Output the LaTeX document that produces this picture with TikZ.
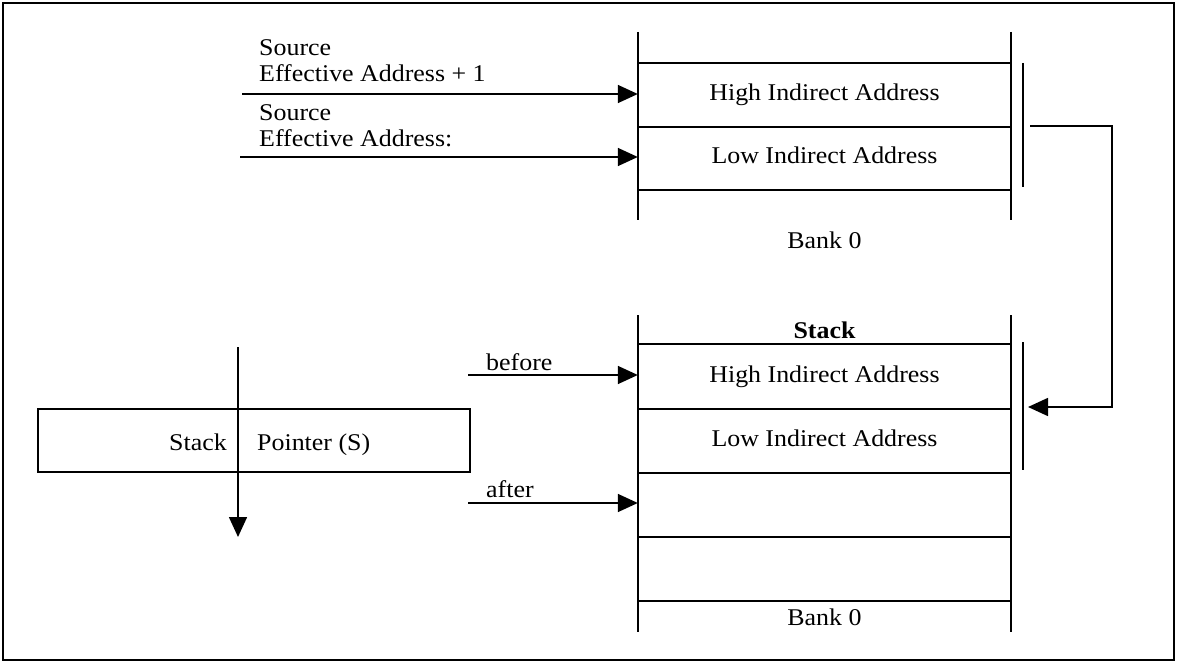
\documentclass[tikz,border=0pt]{standalone}
\usepackage{fontspec}
\setmainfont[FakeStretch=1.08]{Liberation Serif}
\usetikzlibrary{arrows.meta}
\begin{document}
\begin{tikzpicture}[x=1pt,y=-1pt,
  every node/.style={font=\fontsize{24}{28}\selectfont, inner sep=0pt},
  wall/.style={line width=2pt},
  thin wall/.style={line width=1.5pt},
  arr/.style={line width=1.6pt, -{Triangle[length=20pt,width=18pt]}},
  cell/.style={minimum width=373pt, text height=16pt, text depth=5pt},
  lbl/.style={anchor=base west}]
\useasboundingbox (0,0) rectangle (1177,663);
\draw[line width=1.5pt] (3,3) rectangle (1174,660);

% ---------- top stack (Bank 0) ----------
\draw[wall] (638,32) -- (638,220) (1011,32) -- (1011,220);
\draw[wall] (638,63) -- (1011,63) (638,127) -- (1011,127) (638,190) -- (1011,190);
\node[cell] (th) at (824.5,95) {High Indirect Address};
\node[cell] (tl) at (824.5,158.5) {Low Indirect Address};
\node[anchor=base] (tbank) at (824.5,248) {Bank 0};

% source labels and arrows
\node[lbl] (s1a) at (259,56) {Source};
\node[lbl] (s1b) at (259,82) {Effective Address + 1};
\node[lbl] (s2a) at (259,121) {Source};
\node[lbl] (s2b) at (259,147) {Effective Address:};
\coordinate (a1) at (242,94);
\coordinate (a2) at (240,157);
\draw[arr] (a1) -- (a1 -| th.west);
\draw[arr] (a2) -- (a2 -| tl.west);

% ---------- bottom stack ----------
\draw[wall] (638,315) -- (638,632) (1011,315) -- (1011,632);
\draw[wall] (638,344) -- (1011,344) (638,409) -- (1011,409) (638,473) -- (1011,473)
            (638,537) -- (1011,537) (638,601) -- (1011,601);
\node[anchor=base, font=\fontsize{24}{28}\selectfont\bfseries] (stk) at (824.5,338) {Stack};
\node[cell] (bh) at (824.5,376.5) {High Indirect Address};
\node[cell] (bl) at (824.5,441) {Low Indirect Address};
\node[cell] (ba) at (824.5,505) {};
\node[cell] (be) at (824.5,569) {};
\node[anchor=base] (bbank) at (824.5,625) {Bank 0};

% before / after
\node[lbl] (bef) at (486,370) {before};
\node[lbl] (aft) at (486,497) {after};
\coordinate (bf) at (468,375);
\coordinate (af) at (468,503);
\draw[arr] (bf) -- (bf -| bh.west);
\draw[arr] (af) -- (af -| ba.west);

% ---------- brackets and connector ----------
\coordinate (br1t) at (1023,63);
\coordinate (br1b) at (1023,187);
\coordinate (br2t) at (1023,342);
\coordinate (br2b) at (1023,470);
\draw[thin wall] (br1t) -- (br1b);
\draw[thin wall] (br2t) -- (br2b);
\coordinate (b1) at (1030,126);
\coordinate (b2) at (1028,407);
\draw[arr] (b1) -- (1112,126) |- (b2);

% ---------- stack pointer ----------
\node[draw, wall, minimum width=432pt, minimum height=63pt] (sp) at (254,440.5) {};
\node[anchor=base east] (spa) at (227,450) {Stack};
\node[anchor=base west] (spb) at (257,450) {Pointer (S)};
\coordinate (dt) at (238,347);
\coordinate (db) at (238,537);
\draw[arr] (dt) -- (db);
\end{tikzpicture}
\end{document}
